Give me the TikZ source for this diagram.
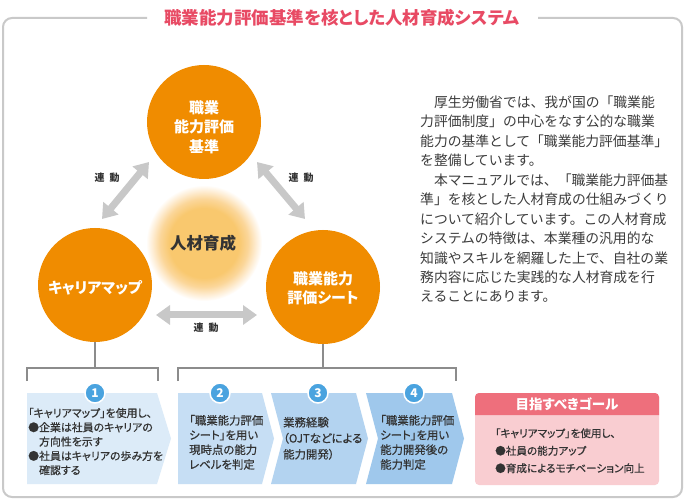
\documentclass[tikz,border=0pt]{standalone}
\usepackage{fontspec}
\setmainfont{Noto Sans CJK JP}
\newfontfamily\pf[RawFeature=+palt]{Noto Sans CJK JP}
\newfontfamily\pfm[RawFeature=+palt,FakeBold=0.6]{Noto Sans CJK JP}
\usetikzlibrary{arrows.meta,calc}
\definecolor{frameg}{HTML}{C9C9C9}
\definecolor{titlec}{HTML}{E84A64}
\definecolor{orng}{HTML}{F08C00}
\definecolor{arrg}{HTML}{C8C8C8}
\definecolor{lineg}{HTML}{8C8C8C}
\definecolor{txt}{HTML}{333333}
\definecolor{ptxt}{HTML}{3C3C3C}
\definecolor{boxa}{HTML}{DCEBF8}
\definecolor{boxb}{HTML}{C6DEF4}
\definecolor{boxc}{HTML}{B3D3F0}
\definecolor{boxd}{HTML}{9FC8EC}
\definecolor{badge}{HTML}{4AA3DF}
\definecolor{goalh}{HTML}{EE6F7C}
\definecolor{goalb}{HTML}{F9CDD1}
\definecolor{glowc}{HTML}{F9C86E}
\definecolor{glowd}{HTML}{FBD699}
\definecolor{glowe}{HTML}{FEEED6}
\pgfdeclareradialshading{glow}{\pgfpoint{0bp}{0bp}}{color(0bp)=(glowc); color(15bp)=(glowc); color(19bp)=(glowd); color(22.5bp)=(glowe); color(25bp)=(white); color(50bp)=(white)}
\begin{document}
\begin{tikzpicture}[x=1pt,y=-1pt,
  circ/.style={circle, fill=orng, minimum size=114pt, inner sep=0pt},
  circtext/.style={text=white, align=center, inner sep=0pt, font=\pf\bfseries\fontsize{15}{19.5}\selectfont},
  link/.style={draw=arrg, line width=7pt, {Triangle[width=19pt,length=14pt]}-{Triangle[width=19pt,length=14pt]}},
  linklbl/.style={font=\bfseries\fontsize{10}{12}\selectfont, text=txt, inner sep=0pt},
  brk/.style={draw=lineg, line width=1.4pt},
  badgest/.style={circle, fill=badge, draw=white, line width=1.5pt, minimum size=20pt, inner sep=0pt, text=white, font=\bfseries\fontsize{12}{12}\selectfont},
  btext/.style={anchor=north west, align=left, inner sep=0pt, text=txt},
]
\useasboundingbox (0,0) rectangle (685,502);
\fill[white] (0,0) rectangle (685,502);
% frame
\draw[frameg, line width=2pt, rounded corners=9pt] (147,18) -- (3,18) -- (3,497) -- (682,497) -- (682,18) -- (538,18);
\node (title) at (342,18) [text=titlec, font=\pf\bfseries\fontsize{17.5}{20}\selectfont] {職業能力評価基準を核とした人材育成システム};
% glow
\shade[shading=glow] (204,243) circle (58);
\node (core) at (203,243) [font=\bfseries\fontsize{16.5}{18}\selectfont, text=txt] {人材育成};
% circles
\node[circ] (kijun) at (204,122) {};
\node[circ] (cmap) at (95,285) {};
\node[circ] (sheet) at (323,287) {};
\node[circtext] (kijunt) at (204,127) {職業\\能力評価\\基準};
\node[circtext] (cmapt) at (95,288) {キャリアマップ};
\node[circtext] (sheett) at (323,288) {職業能力\\評価シート};
% link arrows
\coordinate (a1) at (102,219); \coordinate (a2) at (149,162);
\coordinate (b1) at (257,162); \coordinate (b2) at (305,219);
\coordinate (c1) at (156,315); \coordinate (c2) at (257,315);
\draw[link] (a1) -- (a2);
\draw[link] (b1) -- (b2);
\draw[link] (c1) -- (c2);
\node[linklbl] (l1) at (107,178) {連\hspace{5pt}動};
\node[linklbl] (l2) at (301,178) {連\hspace{5pt}動};
\node[linklbl] (l3) at (206,328) {連\hspace{5pt}動};
% brackets
\coordinate (j1) at (95,368);
\coordinate (j2) at (323,368);
\draw[brk] (cmap.south) -- (j1);
\draw[brk] (27,381) -- (27,368) -- (158,368) -- (158,381);
\draw[brk] (sheet.south) -- (j2);
\draw[brk] (178,381) -- (178,368) -- (456,368) -- (456,381);
% step boxes
\fill[boxa] (27,393) -- (157,393) -- (171,438.5) -- (157,484) -- (27,484) -- cycle;
\fill[boxb] (178,393) -- (262,393) -- (274,438.5) -- (262,484) -- (178,484) -- cycle;
\fill[boxc] (271,393) -- (356,393) -- (368,438.5) -- (356,484) -- (271,484) -- (283,438.5) -- cycle;
\fill[boxd] (366,393) -- (452,393) -- (464,438.5) -- (452,484) -- (366,484) -- (378,438.5) -- cycle;
\node[badgest] (n1) at (95,393) {1};
\node[badgest] (n2) at (220,393) {2};
\node[badgest] (n3) at (318,393) {3};
\node[badgest] (n4) at (414,393) {4};
\node[btext, font=\pfm\fontsize{10.9}{14.3}\selectfont] (t1) at (28,407.7) {「キャリアマップ」を使用し、\\●企業は社員のキャリアの\\\hspace{10.9pt}方向性を示す\\●社員はキャリアの歩み方を\\\hspace{10.9pt}確認する};
\node[btext, font=\pfm\fontsize{11.4}{14.7}\selectfont] (t2) at (189,414.8) {「職業能力評価\\シート」を用い\\現時点の能力\\レベルを判定};
\node[btext, font=\pfm\fontsize{11.4}{16}\selectfont] (t3) at (283,416.8) {業務経験\\（OJTなどによる\\能力開発）};
\node[btext, font=\pfm\fontsize{11.4}{14.7}\selectfont] (t4) at (380,414.8) {「職業能力評価\\シート」を用い\\能力開発後の\\能力判定};
% goal box
\fill[goalb, rounded corners=4pt] (475,393) rectangle (659,485);
\fill[goalh] (475,415) {[rounded corners=4pt] -- (475,393) -- (659,393)} -- (659,415) -- cycle;
\node (goalt) at (567,404) [text=white, font=\pf\bfseries\fontsize{13.5}{15}\selectfont] {目指すべきゴール};
\node[btext, font=\pfm\fontsize{10.6}{17.5}\selectfont] (gt) at (495,428.1) {「キャリアマップ」を使用し、\\●社員の能力アップ\\●育成によるモチベーション向上};
% paragraph
\node[btext, text=ptxt, font=\fontsize{13.8}{19.45}\selectfont] (para) at (420,95.6) {　厚生労働省では、我が国の「職業能\\力評価制度」の中心をなす公的な職業\\能力の基準として「職業能力評価基準」\\を整備しています。\\　本マニュアルでは、「職業能力評価基\\準」を核とした人材育成の仕組みづくり\\について紹介しています。この人材育成\\システムの特徴は、本業種の汎用的な\\知識やスキルを網羅した上で、自社の業\\務内容に応じた実践的な人材育成を行\\えることにあります。};
\end{tikzpicture}
\end{document}
